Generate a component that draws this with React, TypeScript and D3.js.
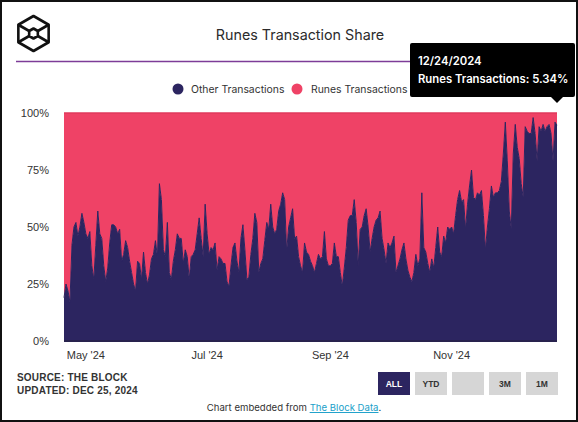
import React from "react";
import * as d3 from "d3";

const startDate = new Date(2024, 3, 20);
// Share of "Other Transactions" (%) per day, Apr 20 – Dec 24, 2024
const otherShare: number[] = [
  19, 25, 22, 17, 42, 50, 52, 46, 50, 56,
  52, 47, 45, 48, 33, 27, 42, 57, 47, 45,
  33, 26, 32, 43, 51, 51, 50, 47, 49, 35,
  38, 44, 41, 35, 30, 25, 22, 35, 34, 27,
  39, 30, 25, 29, 36, 38, 44, 37, 69, 62,
  40, 37, 52, 30, 27, 35, 40, 47, 45, 45,
  34, 40, 37, 27, 37, 38, 40, 47, 54, 45,
  37, 60, 47, 38, 41, 40, 43, 31, 37, 36,
  34, 34, 26, 24, 33, 41, 43, 35, 30, 45,
  51, 40, 27, 28, 38, 45, 56, 52, 30, 34,
  36, 44, 52, 49, 60, 50, 47, 49, 57, 60,
  65, 62, 39, 50, 54, 58, 45, 46, 37, 33,
  30, 43, 39, 38, 35, 33, 30, 34, 38, 36,
  37, 48, 36, 33, 33, 34, 43, 37, 37, 30,
  24, 32, 41, 53, 55, 55, 62, 52, 33, 49,
  50, 55, 58, 50, 39, 45, 50, 53, 54, 57,
  45, 40, 34, 43, 41, 43, 46, 30, 33, 36,
  40, 43, 36, 31, 28, 26, 30, 38, 33, 36,
  65, 41, 39, 34, 30, 36, 32, 41, 50, 39,
  37, 46, 43, 50, 49, 50, 47, 55, 62, 66,
  61, 62, 49, 60, 68, 75, 63, 62, 65, 64,
  66, 55, 40, 50, 58, 68, 63, 65, 65, 66,
  70, 82, 96, 79, 57, 49, 82, 95, 85, 80,
  69, 63, 94, 92, 91, 91, 98, 91, 79, 94,
  92, 95, 92, 94, 95, 91, 79, 96, 94.66,
];
const seriesNames = ["Other Transactions", "Runes Transactions"];
const seriesColors = ["#2c2560", "#ef4266"];
const yTicks = [0, 25, 50, 75, 100];
const xTickDates = [new Date(2024, 4, 1), new Date(2024, 6, 1), new Date(2024, 8, 1), new Date(2024, 10, 1)];
const rangeButtons = ["ALL", "YTD", "", "3M", "1M"];
const tooltipDate = "12/24/2024";
const tooltipText = "Runes Transactions: 5.34%";

type Row = { date: Date; other: number; runes: number };
const rows: Row[] = otherShare.map((v, i) => ({
  date: d3.timeDay.offset(startDate, i),
  other: v,
  runes: 100 - v,
}));

export default function App() {
  const W = 578, H = 422;
  const left = 64, right = 557, top = 113, bottom = 341;
  const x = d3.scaleTime().domain([rows[0].date, rows[rows.length - 1].date]).range([left, right]);
  const y = d3.scaleLinear().domain([0, 100]).range([bottom, top]);
  const stack = d3.stack<Row>().keys(["other", "runes"]);
  const stacked = stack(rows);
  const area = d3
    .area<d3.SeriesPoint<Row>>()
    .x((d) => x(d.data.date))
    .y0((d) => y(d[0]))
    .y1((d) => y(d[1]));
  const line = d3
    .line<d3.SeriesPoint<Row>>()
    .x((d) => x(d.data.date))
    .y((d) => y(d[1]));
  const fmt = d3.timeFormat("%b '%y");
  const font = "Inter, 'Noto Sans', sans-serif";
  const arial = "'Liberation Sans', Arial, sans-serif";

  // logo geometry
  const cx = 33.5, cy = 33.5, R = 17.5, r = 5;
  const hex = (rad: number) =>
    d3.range(6).map((k) => {
      const a = (Math.PI / 3) * k - Math.PI / 2;
      return [cx + rad * Math.cos(a), cy + rad * Math.sin(a)] as [number, number];
    });
  const outer = hex(R);
  const inner = hex(r);

  const btnX = [378, 415, 452, 489, 526];

  return (
    <div style={{ position: "absolute", left: 0, top: 0 }}>
      <svg width={W} height={H} style={{ display: "block", background: "#fff" }}>
        <rect x={1} y={1} width={W - 2} height={H - 2} fill="#fff" stroke="#111" strokeWidth={2} />
        {/* logo */}
        <g fill="none" stroke="#111" strokeWidth={2.6} strokeLinejoin="round">
          <polygon points={outer.map((p) => p.join(",")).join(" ")} />
          <polygon points={inner.map((p) => p.join(",")).join(" ")} />
          {[1, 2, 4, 5].map((k) => (
            <line key={k} x1={outer[k][0]} y1={outer[k][1]} x2={inner[k][0]} y2={inner[k][1]} />
          ))}
        </g>
        <text x={300} y={40} textAnchor="middle" fontFamily={font} fontSize={14.3} fill="#2b2b2b">
          Runes Transaction Share
        </text>
        <line x1={16} x2={562} y1={61.5} y2={61.5} stroke="#7d3c98" strokeWidth={1.5} />

        {/* legend */}
        <circle cx={178} cy={89} r={5.5} fill={seriesColors[0]} />
        <text x={191} y={93} fontFamily={font} fontSize={10.4} fill="#333">{seriesNames[0]}</text>
        <circle cx={297} cy={89} r={5.5} fill={seriesColors[1]} />
        <text x={311} y={93} fontFamily={font} fontSize={10.4} fill="#333">{seriesNames[1]}</text>

        {/* areas */}
        {stacked.map((s, i) => (
          <path key={s.key} d={area(s) || ""} fill={seriesColors[i]} />
        ))}
        <path d={line(stacked[0]) || ""} fill="none" stroke={seriesColors[0]} strokeWidth={1} />
        <path d={line(stacked[1]) || ""} fill="none" stroke="#e03a5c" strokeWidth={1.5} />
        <line x1={left} x2={right} y1={bottom} y2={bottom} stroke="#28224d" strokeWidth={2} />

        {/* y axis */}
        {yTicks.map((t) => (
          <text key={t} x={49} y={y(t) + 4} textAnchor="end" fontFamily={arial} fontSize={11} fill="#333">
            {t}%
          </text>
        ))}
        {/* x axis */}
        {xTickDates.map((d) => (
          <text key={+d} x={x(d)} y={359} textAnchor="middle" fontFamily={arial} fontSize={11} fill="#333">
            {fmt(d)}
          </text>
        ))}

        {/* tooltip */}
        <rect x={410} y={43} width={165} height={54} rx={2} fill="#000" />
        <polygon points={`551,97 563,97 557,103`} fill="#000" />
        <text x={418} y={65} fontFamily={font} fontSize={11.3} fontWeight={600} fill="#fff">{tooltipDate}</text>
        <text x={418} y={83} fontFamily={font} fontSize={11.3} fontWeight={600} fill="#fff">{tooltipText}</text>

        {/* footer */}
        <text x={17} y={381} fontFamily={arial} fontSize={10} fontWeight={700} fill="#333" letterSpacing={0.2}>
          SOURCE: THE BLOCK
        </text>
        <text x={17} y={394} fontFamily={arial} fontSize={10} fontWeight={700} fill="#333" letterSpacing={0.2}>
          UPDATED: DEC 25, 2024
        </text>
        {rangeButtons.map((b, i) => (
          <g key={i}>
            <rect x={btnX[i]} y={372} width={32} height={23} fill={i === 0 ? "#2c2560" : "#d6d6d6"} />
            <text x={btnX[i] + 16} y={387} textAnchor="middle" fontFamily={arial} fontSize={8.5} fontWeight={700} fill={i === 0 ? "#fff" : "#333"}>
              {b}
            </text>
          </g>
        ))}
        <text x={294} y={411} textAnchor="middle" fontFamily={font} fontSize={9.6} fill="#333">
          Chart embedded from <tspan fill="#1a9fc9" textDecoration="underline">The Block Data</tspan>.
        </text>
      </svg>
    </div>
  );
}
